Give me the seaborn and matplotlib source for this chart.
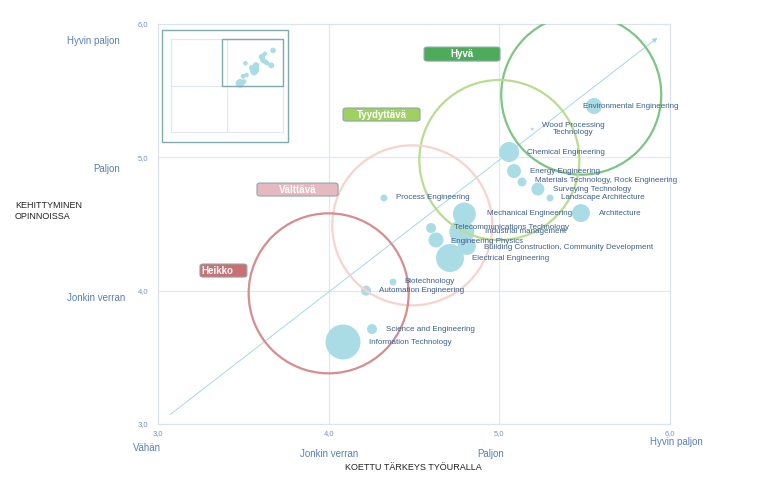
import matplotlib
matplotlib.use("Agg")
import matplotlib.pyplot as plt
import matplotlib.patches as mpatches
import numpy as np
import pandas as pd
import seaborn as sns

# koulutusohjelmat: koettu tärkeys (x), kehittyminen (y), vastaajia (koko)
programs = ["Environmental Engineering", "Wood Processing\nTechnology", "Chemical Engineering",
            "Energy Engineering", "Materials Technology, Rock Engineering", "Surveying Technology",
            "Landscape Architecture", "Architecture", "Process Engineering", "Mechanical Engineering",
            "Telecommunications Technology", "Industrial management", "Engineering Physics",
            "Building Construction, Community Development", "Electrical Engineering",
            "Biotechnology", "Automation Engineering", "Science and Engineering",
            "Information Technology"]
tarkeys = [5.555, 5.193, 5.057, 5.086, 5.133, 5.226, 5.297, 5.478, 4.324, 4.795,
           4.600, 4.780, 4.629, 4.810, 4.711, 4.377, 4.219, 4.254, 4.084]
kehitys = [5.385, 5.212, 5.040, 4.897, 4.815, 4.762, 4.695, 4.582, 4.695, 4.575,
           4.470, 4.440, 4.380, 4.335, 4.245, 4.065, 4.000, 3.712, 3.615]
vastaajat = [64, 2, 100, 49, 20, 42, 12, 81, 12, 132, 25, 156, 56, 81, 196, 12, 25, 25, 306]

# label offsets in pixels (dx, dy)
label_dx = [-11, 41, 18, 16, 13, 15, 11, 18, 12, 23, 23, 23, 15, 17, 22, 11, 13, 14, 26]
label_dy = [0, 0, 0, 0, -1, 0, 0, 0, 0, 0, -1, 0, 1, 1, 0, 0, 0, 0, 1]

ring_names = ["Hyvä", "Tyydyttävä", "Välttävä", "Heikko"]
ring_x = [5.48, 5.00, 4.49, 4.00]
ring_y = [5.47, 4.98, 4.49, 3.98]
ring_colors = ["#7cc584", "#b9dc90", "#f6d4cd", "#d68d8e"]
box_colors = ["#4fab5c", "#9fd060", "#e6b9c0", "#cc6e73"]
# box extents in data units (x0, x1, y0, y1)
box_x0 = [4.559, 4.084, 3.580, 3.246]
box_x1 = [5.004, 4.535, 4.055, 3.521]
box_y0 = [5.722, 5.272, 4.710, 4.102]
box_y1 = [5.827, 5.370, 4.807, 4.200]

x_ticks = [3, 4, 5, 6]
tick_labels = ["3,0", "4,0", "5,0", "6,0"]
scale_words = ["Vähän", "Jonkin verran", "Paljon", "Hyvin paljon"]

sns.set_style("white")
plt.rcParams["font.family"] = ["Liberation Sans", "DejaVu Sans"]

df = pd.DataFrame({"ohjelma": programs, "x": tarkeys, "y": kehitys, "n": vastaajat})

fig = plt.figure(figsize=(7.68, 4.82), dpi=100)
ax = fig.add_axes([158 / 768, 58 / 482, 512 / 768, 400 / 482])

bubble = "#aadce5"
sns.scatterplot(data=df, x="x", y="y", size="n", sizes=(2.07 * 2, 2.07 * 306),
                size_norm=(2, 306), color=bubble, edgecolor="none", alpha=1,
                legend=False, ax=ax, zorder=3)

# diagonal reference arrow
ax.annotate("", xy=(5.94, 5.91), xytext=(3.06, 3.06),
            arrowprops=dict(arrowstyle="-|>", color="#a6d8e4", lw=0.7,
                            mutation_scale=7), zorder=2)

# rings
for rx, ry, rc in zip(ring_x, ring_y, ring_colors):
    ax.scatter([rx], [ry], s=13271, facecolors="none", edgecolors=rc,
               linewidths=1.6, zorder=4)

# category boxes
for name, x0, x1, y0, y1, bc in zip(ring_names, box_x0, box_x1, box_y0, box_y1, box_colors):
    ax.add_patch(mpatches.FancyBboxPatch((x0, y0), x1 - x0, y1 - y0,
                                         boxstyle="round,pad=0,rounding_size=0.02",
                                         facecolor=bc, edgecolor="#8ea8ac",
                                         linewidth=0.8, zorder=5, mutation_aspect=0.8))
    tx = (x0 + x1) / 2 if name != "Heikko" else x0 + 0.1
    ax.text(tx, (y0 + y1) / 2, name, ha="center", va="center", color="white",
            fontsize=7, fontweight="bold", zorder=6)

# bubble labels
for name, x, y, dx, dy in zip(programs, tarkeys, kehitys, label_dx, label_dy):
    ha = "center" if "\n" in name else "left"
    ax.annotate(name, (x, y), xytext=(dx * 0.72, -dy * 0.72), textcoords="offset points",
                ha=ha, va="center", fontsize=5.8, color="#3f5f8c", zorder=7,
                multialignment="center", linespacing=1.15)

ax.set_xlim(3, 6)
ax.set_ylim(3, 6)
ax.set_xticks(x_ticks)
ax.set_xticklabels(tick_labels)
ax.set_yticks(x_ticks)
ax.set_yticklabels(tick_labels)
ax.tick_params(length=0, labelsize=5.5, labelcolor="#6f93c5")
ax.tick_params(axis="x", pad=4)
ax.tick_params(axis="y", pad=7)
ax.set_xlabel("")
ax.set_ylabel("")
for v in [4, 5]:
    ax.axvline(v, color="#e1e8f2", lw=0.9, zorder=0)
    ax.axhline(v, color="#e1e8f2", lw=0.9, zorder=0)
for sp in ax.spines.values():
    sp.set_color("#dbe4ee")
    sp.set_linewidth(0.9)

# scale words
word_c = "#5a80b6"
yw_y = [3.945, 4.91, 5.87]
for w, yy in zip(scale_words[1:], yw_y):
    ax.text(-0.075 if w != "Jonkin verran" else -0.064, yy, w, transform=ax.get_yaxis_transform(),
            ha="right", va="center", fontsize=7, color=word_c)
xw_x = [2.935, 4.0, 4.95, 6.04]
xw_y = [-0.06, -0.075, -0.075, -0.045]
for w, xx, yy in zip(scale_words, xw_x, xw_y):
    ax.text(xx, yy, w, transform=ax.get_xaxis_transform(), ha="center", va="center",
            fontsize=7, color=word_c)

fig.text(15 / 768, 1 - 211 / 482, "KEHITTYMINEN\nOPINNOISSA", ha="left", va="center",
         fontsize=6.5, color="#222222", linespacing=1.25)
fig.text(413 / 768, 1 - 467 / 482, "KOETTU TÄRKEYS TYÖURALLA", ha="center", va="center",
         fontsize=6.5, color="#222222")

# inset overview
fig.patches.append(mpatches.Rectangle((162 / 768, 1 - 142 / 482), 126 / 768, 112 / 482,
                                      transform=fig.transFigure, facecolor="white",
                                      edgecolor="#7eaab0", linewidth=1.0, zorder=8))
ins = fig.add_axes([171 / 768, 1 - 132 / 482, 112 / 768, 93 / 482], zorder=9)
sns.scatterplot(data=df, x="x", y="y", size="n", sizes=(10, 40), size_norm=(2, 306),
                color=bubble, edgecolor="none", legend=False, ax=ins, zorder=3)
ins.set_xlim(1, 6)
ins.set_ylim(1, 6)
ins.axvline(3.5, color="#e1e8f2", lw=0.9, zorder=0)
ins.axhline(3.5, color="#e1e8f2", lw=0.9, zorder=0)
ins.add_patch(mpatches.Rectangle((3.28, 3.5), 2.72, 2.5, facecolor="none",
                                 edgecolor="#7eaab0", linewidth=1.0, zorder=4, clip_on=False))
ins.set_xticks([])
ins.set_yticks([])
ins.set_xlabel("")
ins.set_ylabel("")
for sp in ins.spines.values():
    sp.set_color("#e1e8f2")
    sp.set_linewidth(0.9)

fig.savefig("out.png", dpi=100)
